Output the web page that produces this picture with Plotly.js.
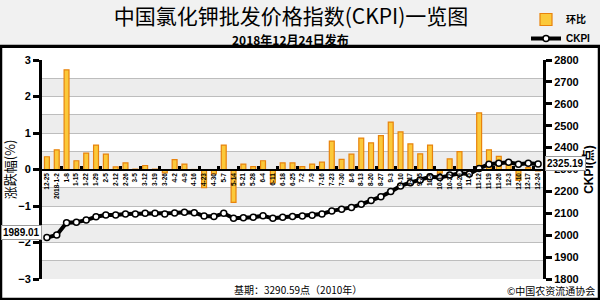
<!DOCTYPE html>
<html>
<head>
<meta charset="utf-8">
<script src="https://cdn.plot.ly/plotly-3.0.1.min.js"></script>
<style>html,body{margin:0;padding:0;background:#fff}#chart{width:600px;height:300px}</style>
</head>
<body>
<div id="chart"></div>
<script>
// ---- data ----
const dates = ['12-25','2018-1-2','1-8','1-15','1-22','1-29','2-5','2-12','2-26','3-5','3-12','3-19','3-26','4-2','4-9','4-16','4-23','4-30','5-7','5-14','5-21','5-28','6-4','6-11','6-18','6-25','7-2','7-9','7-16','7-23','7-30','8-6','8-13','8-20','8-27','9-3','9-10','9-17','9-25','10-8','10-15','10-22','10-29','11-5','11-12','11-19','11-26','12-3','12-10','12-17','12-24'];
const changePct = [0.35,0.54,2.73,0.24,0.45,0.67,0.42,0.07,0.18,0.01,0.11,0.01,-0.09,0.27,0.15,-0.02,-0.5,-0.12,0.67,-0.9,0.15,0.08,0.24,-0.37,0.18,0.18,0.08,0.15,0.2,0.78,0.28,0.42,0.86,0.73,0.93,1.3,1.03,0.7,0.43,0.67,-0.1,0.29,0.49,-0.08,1.55,0.54,0.36,0.15,-0.3,0.05,-0.04];
const ckpi = [1989.01,2001,2057,2059,2069,2084,2092,2092,2097,2097,2100,2100,2097,2101,2105,2103,2088,2085,2100,2077,2080,2082,2089,2077,2082,2085,2088,2091,2097,2111,2118,2127,2141,2158,2176,2199,2225,2240,2252,2267,2263,2275,2283,2280,2305,2324,2328,2333,2324,2328,2325.19];
const leftTicks = [-3,-2,-1,0,1,2,3];
const rightTicks = [1800,1900,2000,2100,2200,2300,2400,2500,2600,2700,2800];
const titleText = '中国氯化钾批发价格指数(CKPI)一览图';
const subtitleText = '2018年12月24日发布';
const baseText = '基期：3290.59点（2010年）';
const sourceText = '©中国农资流通协会';

// ---- layout helpers ----
const W = 600, H = 300, ML = 42, MR = 57, MT = 60, MB = 21;
const PW = W - ML - MR, PH = H - MT - MB;
const px = v => (v - ML) / PW;
const py = v => (H - MB - v) / PH;

const shapes = [];
shapes.push({type:'rect', xref:'paper', yref:'paper', x0:px(0), x1:px(600), y0:py(46), y1:py(0), fillcolor:'#f1f1f1', line:{width:0}, layer:'below'});
for (let b = -3; b < 3; b += 1) {
  shapes.push({type:'rect', xref:'paper', yref:'y', x0:0, x1:1, y0:b, y1:b+0.5, fillcolor:'#ededed', line:{width:0}, layer:'below'});
}
shapes.push({type:'rect', xref:'paper', yref:'paper', x0:px(1), x1:px(599), y0:py(299), y1:py(46), line:{color:'#000', width:2.5}, fillcolor:'rgba(0,0,0,0)'});
shapes.push({type:'line', xref:'paper', yref:'paper', x0:px(0), x1:px(600), y0:py(46.5), y1:py(46.5), line:{color:'#000', width:3}});

const bdTicks = [];
for (let k = 1; k < dates.length; k += 2) bdTicks.push(k + 0.5);

const traces = [
  {type:'bar', name:'环比', x:dates, y:changePct, width:0.5, yaxis:'y', xaxis:'x',
   marker:{color:'#fbc93a', line:{color:'#e8830c', width:1.2}}},
  {type:'scatter', mode:'lines+markers', name:'CKPI', x:dates, y:ckpi, yaxis:'y2', xaxis:'x',
   line:{color:'#000', width:4}, marker:{color:'#fff', size:6, line:{color:'#000', width:1.5}}},
  {type:'scatter', x:[0], y:[0], xaxis:'x2', yaxis:'y', mode:'markers', marker:{opacity:0}, showlegend:false, hoverinfo:'skip'}
];

const boldTick = {family:'Liberation Sans, Arial, sans-serif', size:11, color:'#000', weight:'bold'};

const layout = {
  width:W, height:H,
  margin:{l:ML, r:MR, t:MT, b:MB, autoexpand:false},
  paper_bgcolor:'#fff', plot_bgcolor:'#fff',
  showlegend:true,
  legend:{x:px(526), y:py(5), xanchor:'left', yanchor:'top', bgcolor:'rgba(0,0,0,0)',
          font:{family:'Liberation Sans, Noto Sans CJK SC, sans-serif', size:10, color:'#000', weight:'bold'}, itemwidth:30, tracegroupgap:0},
  title:{text:titleText, x:0.497, xref:'paper', xanchor:'center', y:1-17/H, yanchor:'middle',
         font:{family:'Noto Sans CJK SC, sans-serif', size:21, color:'#000'}},
  xaxis:{type:'category', range:[-0.5, dates.length-0.5], anchor:'free', position:0.5,
         showline:true, linecolor:'#000', linewidth:2, ticks:'', tickangle:-90,
         tickfont:{family:'Liberation Sans Narrow, Arial Narrow, Liberation Sans, sans-serif', size:6.5, color:'#000', weight:'bold'},
         showgrid:false, zeroline:false, fixedrange:true},
  xaxis2:{overlaying:'x', range:[-0.5, dates.length-0.5], anchor:'free', position:0.5,
          tickvals:bdTicks, showticklabels:false, ticks:'inside', ticklen:4, tickwidth:3, tickcolor:'#000',
          showgrid:false, zeroline:false, showline:false},
  yaxis:{range:[-3,3], tickvals:leftTicks, ticks:'outside', ticklen:6, tickwidth:3, tickcolor:'#000',
         showline:true, linecolor:'#000', linewidth:3, tickfont:boldTick,
         showgrid:true, gridcolor:'#bdbdbd', gridwidth:1,
         minor:{dtick:0.5, showgrid:true, gridcolor:'#bdbdbd', gridwidth:1},
         zeroline:true, zerolinecolor:'#000', zerolinewidth:2,
         title:{text:'涨跌幅(%)', font:{family:'Noto Sans CJK SC, sans-serif', size:13, color:'#000'}, standoff:8}},
  yaxis2:{range:[1800,2800], tickvals:rightTicks, overlaying:'y', side:'right', ticks:'outside', ticklen:6, tickwidth:3, tickcolor:'#000',
          showline:true, linecolor:'#000', linewidth:3, tickfont:boldTick, showgrid:false, zeroline:false,
          title:{text:'CKPI(点)', font:{family:'Liberation Sans, Noto Sans CJK SC, sans-serif', size:12, color:'#000', weight:'bold'}, standoff:7}},
  shapes:shapes,
  annotations:[
    {xref:'paper', yref:'paper', x:0.497, y:py(39), text:subtitleText, showarrow:false, xanchor:'center', yanchor:'middle',
     font:{family:'Noto Sans CJK SC, sans-serif', size:12, color:'#000', weight:'bold'}},
    {xref:'paper', yref:'y2', x:px(1), y:ckpi[0], yshift:5, text:ckpi[0].toFixed(2), showarrow:false, xanchor:'left', yanchor:'middle',
     bgcolor:'#fff', bordercolor:'#999', borderwidth:1, borderpad:1, font:{family:'Liberation Sans, Arial, sans-serif', size:10, color:'#000', weight:'bold'}},
    {xref:'paper', yref:'y2', x:px(545), y:ckpi[ckpi.length-1], text:ckpi[ckpi.length-1].toFixed(2), showarrow:false, xanchor:'left', yanchor:'middle',
     bgcolor:'#fff', bordercolor:'#999', borderwidth:1, borderpad:1, font:{family:'Liberation Sans, Arial, sans-serif', size:10, color:'#000', weight:'bold'}},
    {xref:'paper', yref:'paper', x:px(298), y:py(289), text:baseText, showarrow:false, xanchor:'center', yanchor:'middle',
     font:{family:'Noto Sans CJK SC, sans-serif', size:10, color:'#000'}},
    {xref:'paper', yref:'paper', x:px(597), y:py(290), text:sourceText, showarrow:false, xanchor:'right', yanchor:'middle',
     font:{family:'Noto Sans CJK SC, sans-serif', size:10, color:'#000'}}
  ]
};

Plotly.newPlot('chart', traces, layout, {staticPlot:true, displayModeBar:false});
</script>
</body>
</html>
